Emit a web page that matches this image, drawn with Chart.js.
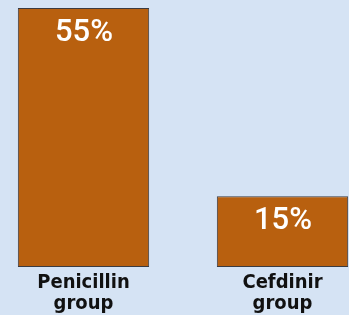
<!DOCTYPE html>
<html><head><meta charset="utf-8">
<script src="https://cdn.jsdelivr.net/npm/chart.js@4/dist/chart.umd.min.js"></script>
<style>
html,body{margin:0;padding:0;background:#d5e3f4;overflow:hidden;width:349px;height:315px}
#wrap{position:absolute;left:-16px;top:0;width:398px;height:315px}
</style></head><body>
<div id="wrap"><canvas id="c" width="398" height="315"></canvas></div>
<script>
const categories = [['Penicillin', 'group'], ['Cefdinir', 'group']];
const percentValues = [55, 15];
const valueLabels = ['55%', '15%'];

const barLabels = {
  id: 'barLabels',
  afterDatasetsDraw(chart) {
    const ctx = chart.ctx;
    const meta = chart.getDatasetMeta(0);
    ctx.save();
    ctx.fillStyle = '#ffffff';
    ctx.font = '500 31px Roboto';
    ctx.textAlign = 'center';
    ctx.textBaseline = 'alphabetic';
    meta.data.forEach((el, i) => {
      ctx.fillText(valueLabels[i], el.x + 0.5, el.y + 33);
    });
    ctx.restore();
  }
};

new Chart(document.getElementById('c'), {
  type: 'bar',
  data: {
    labels: categories,
    datasets: [{
      data: percentValues,
      backgroundColor: '#b8600f',
      borderColor: '#3b3b40',
      borderWidth: 1,
      borderSkipped: false,
      categoryPercentage: 1,
      barPercentage: 0.66
    }]
  },
  options: {
    responsive: false,
    devicePixelRatio: 1,
    animation: false,
    layout: { padding: { top: 8, left: 0, right: 0, bottom: 0 } },
    plugins: { legend: { display: false }, tooltip: { enabled: false } },
    scales: {
      y: { display: false, min: 0, max: 55 },
      x: {
        grid: { display: false, drawTicks: false },
        border: { display: false },
        ticks: {
          color: '#111111',
          padding: 5,
          maxRotation: 0,
          autoSkip: false,
          font: { family: 'DejaVu Sans Condensed', weight: 'bold', size: 20, lineHeight: 1.05 }
        },
        afterFit(scale) { scale.height = 48; }
      }
    }
  },
  plugins: [barLabels]
});
</script>
</body></html>
